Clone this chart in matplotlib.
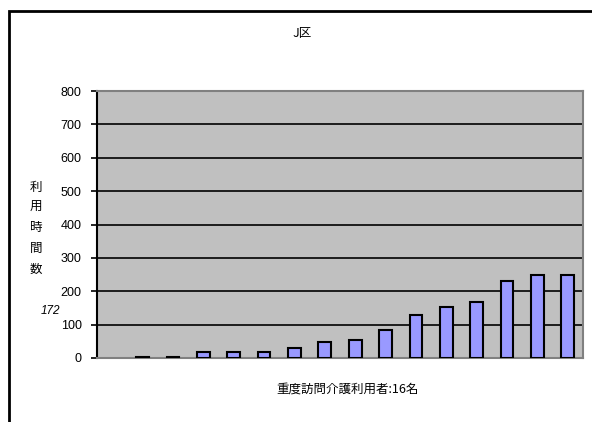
import matplotlib
matplotlib.use('Agg')
import matplotlib.pyplot as plt
from matplotlib.patches import Rectangle

plt.rcParams['font.family'] = ['Noto Sans CJK JP', 'DejaVu Sans']

# data
users = list(range(1, 17))
hours = [0, 3, 3, 17, 17, 17, 29, 48, 53, 83, 130, 154, 167, 232, 250, 250]
yticks = [0, 100, 200, 300, 400, 500, 600, 700, 800]
title = 'J区'
xlabel = '重度訪問介護利用者:16名'
ylabel = '利\n用\n時\n間\n数'
avg_note = '172'

fig = plt.figure(figsize=(5.92, 4.22), dpi=100)
fig.patch.set_facecolor('white')

# outer chart frame (runs off the right/bottom edge)
frame = Rectangle((9 / 592, -0.05), 1.0, 1 - 11 / 422 + 0.05, transform=fig.transFigure,
                  fill=False, edgecolor='black', linewidth=2, clip_on=False)
fig.patches.append(frame)

ax = fig.add_axes([97 / 592, 64 / 422, 486 / 592, 267 / 422])
ax.set_facecolor('#c0c0c0')

# zero-valued users get no visible bar (as in the original)
x = [i for i, h in enumerate(hours) if h > 0]
h = [v for v in hours if v > 0]
ax.bar(x, h, width=0.42, color='#9999ff', edgecolor='black', linewidth=1.5, zorder=3)

ax.set_xlim(-0.5, len(users) - 0.5)
ax.set_ylim(0, 800)
ax.set_yticks(yticks)
ax.set_yticklabels([str(v) for v in yticks], fontsize=9, family='Liberation Sans')
ax.set_xticks([])
ax.yaxis.grid(True, color='black', linewidth=1.2, zorder=1)
ax.set_axisbelow(True)
ax.tick_params(axis='y', direction='out', length=4, width=1.2, pad=7)

for side in ['top', 'right', 'bottom']:
    ax.spines[side].set_color('#808080')
    ax.spines[side].set_linewidth(1.5)
ax.spines['left'].set_color('black')
ax.spines['left'].set_linewidth(1.5)

fig.text(302 / 592, 1 - 33 / 422, title, ha='center', va='center', fontsize=9)
fig.text(348 / 592, 1 - 389 / 422, xlabel, ha='center', va='center', fontsize=9)
fig.text(36 / 592, 1 - 228 / 422, ylabel, ha='center', va='center', fontsize=9, linespacing=1.75)
fig.text(50 / 592, 1 - 311 / 422, avg_note, ha='center', va='center', fontsize=8.5,
         style='italic', family='Liberation Sans')

fig.savefig('out.png', dpi=100)
